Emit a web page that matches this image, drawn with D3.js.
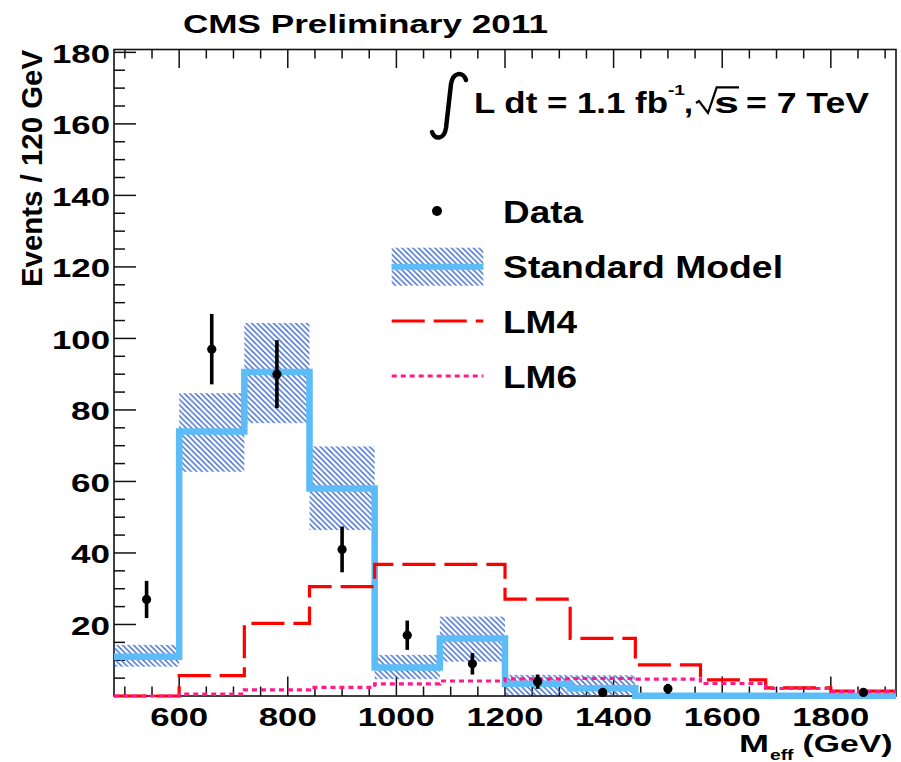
<!DOCTYPE html>
<html>
<head>
<meta charset="utf-8">
<script src="https://cdn.jsdelivr.net/npm/d3@7"></script>
<style>
  html, body { margin: 0; padding: 0; background: #fff; }
  svg { display: block; }
  text { font-family: "Liberation Sans", Arial, Helvetica, sans-serif; font-weight: bold; fill: #000; }
</style>
</head>
<body>
<script>
// ---------------- data ----------------
const binEdges = [480, 600, 720, 840, 960, 1080, 1200, 1320, 1440, 1560, 1680, 1800, 1920];
const smValues   = [11.0, 74.0, 90.6, 58.0, 8.0, 16.1, 3.4, 2.2, 0.1, 0.1, 0.1, 0.1];
const smBandHigh = [14.3, 84.7, 104.3, 69.8, 11.5, 22.2, 5.9, 5.8, 0, 0, 0, 0];
const smBandLow  = [8.2, 62.7, 76.3, 46.4, 4.7, 9.6, 0.3, 0.0, 0, 0, 0, 0];
const lm4Values  = [0, 5.7, 20.3, 30.6, 36.8, 36.8, 27.1, 16.1, 8.7, 4.5, 2.3, 1.4];
const lm6Values  = [0, 0.5, 1.7, 2.4, 3.4, 4.2, 4.8, 4.9, 4.7, 3.5, 2.1, 1.2];
const dataX   = [540, 660, 780, 900, 1020, 1140, 1260, 1380, 1500, 1860];
const dataY   = [27, 97, 90, 41, 17, 9, 4, 1, 2, 1];
const dataErr = [5.2, 9.85, 9.5, 6.4, 4.1, 3.0, 2.0, 1.0, 1.4, 1.0];
const legendLabels = ["Data", "Standard Model", "LM4", "LM6"];
const titleText = "CMS Preliminary 2011";
const yTitle = "Events / 120 GeV";

// ---------------- setup ----------------
const W = 901, H = 762;
const L = 114, R = 896, T = 49.5, B = 696;
const svg = d3.select("body").append("svg").attr("width", W).attr("height", H);
svg.append("rect").attr("width", W).attr("height", H).attr("fill", "#fff");

const x = d3.scaleLinear().domain([480, 1920]).range([L, R]);
const y = d3.scaleLinear().domain([0, 180.8]).range([B, T]);

const defs = svg.append("defs");
const hp = 5.5;
const pat = defs.append("pattern").attr("id", "hatch").attr("patternUnits", "userSpaceOnUse")
  .attr("width", hp).attr("height", hp);
pat.append("path")
  .attr("d", `M0,0 L${hp},${hp} M${-1},${hp - 1} L1,${hp + 1} M${hp - 1},-1 L${hp + 1},1`)
  .attr("stroke", "#3565cc").attr("stroke-width", 1.4);

function txt(g, str, px, py, fs, len, anchor) {
  let x0 = px;
  if (anchor === "middle") x0 = px - len / 2;
  else if (anchor === "end") x0 = px - len;
  return g.append("text").attr("x", x0).attr("y", py).attr("font-size", fs)
    .attr("textLength", len).attr("lengthAdjust", "spacingAndGlyphs").text(str);
}

// ---------------- frame & ticks ----------------
const axes = svg.append("g");
axes.append("rect").attr("x", L).attr("y", T).attr("width", R - L).attr("height", B - T)
  .attr("fill", "none").attr("stroke", "#111").attr("stroke-width", 1.6);

const xMajor = x.ticks(7);
const xMinor = d3.ticks(480, 1920, 30).filter(v => v > 480 && v < 1920);
const yMajor = y.ticks(9).filter(v => v > 0);
const yMinor = d3.ticks(0, 180.8, 36).filter(v => v > 0);

xMinor.forEach(v => {
  const isMaj = xMajor.includes(v);
  const len = isMaj ? 19.5 : 9.5;
  axes.append("line").attr("x1", x(v)).attr("x2", x(v)).attr("y1", B).attr("y2", B - len)
    .attr("stroke", "#111").attr("stroke-width", 1.5);
  axes.append("line").attr("x1", x(v)).attr("x2", x(v)).attr("y1", T).attr("y2", T + (isMaj ? 18.5 : 9))
    .attr("stroke", "#111").attr("stroke-width", 1.5);
});
yMinor.forEach(v => {
  const isMaj = yMajor.includes(v);
  axes.append("line").attr("x1", L).attr("x2", L + (isMaj ? 22 : 11)).attr("y1", y(v)).attr("y2", y(v))
    .attr("stroke", "#111").attr("stroke-width", 1.5);
});

// tick labels
xMajor.forEach(v => {
  const s = String(v);
  txt(axes, s, x(v), 726, 26.5, s.length === 3 ? 58 : 77, "middle");
});
yMajor.forEach(v => {
  const s = String(v);
  txt(axes, s, 110, y(v) + 10.5, 26.5, s.length === 2 ? 39 : 58, "end");
});

// ---------------- plot contents ----------------
const plot = svg.append("g");
const bins = smValues.map((v, i) => ({ i, x0: binEdges[i], x1: binEdges[i + 1] }));

// SM uncertainty band
plot.selectAll("rect.band").data(bins.filter(b => smBandHigh[b.i] > smBandLow[b.i]))
  .enter().append("rect").attr("class", "band")
  .attr("x", b => x(b.x0)).attr("width", b => x(b.x1) - x(b.x0))
  .attr("y", b => y(smBandHigh[b.i])).attr("height", b => y(smBandLow[b.i]) - y(smBandHigh[b.i]))
  .attr("fill", "url(#hatch)");

function stepPts(vals) {
  const pts = vals.map((v, i) => [binEdges[i], v]);
  pts.push([binEdges[binEdges.length - 1], vals[vals.length - 1]]);
  return pts;
}
const step = d3.line().x(d => x(d[0])).y(d => y(d[1])).curve(d3.curveStepAfter);

plot.append("path").attr("d", step(stepPts(smValues))).attr("fill", "none")
  .attr("stroke", "#5bbcf7").attr("stroke-width", 6.5);
plot.append("path").attr("d", step(stepPts(lm4Values))).attr("fill", "none")
  .attr("stroke", "#ff0000").attr("stroke-width", 3.2).attr("stroke-dasharray", "33,9");
plot.append("path").attr("d", step(stepPts(lm6Values))).attr("fill", "none")
  .attr("stroke", "#ff1a8c").attr("stroke-width", 3.2).attr("stroke-dasharray", "5,4");

// data points
const pts = dataX.map((v, i) => ({ x: v, y: dataY[i], e: dataErr[i] }));
plot.selectAll("line.err").data(pts).enter().append("line").attr("class", "err")
  .attr("x1", d => x(d.x)).attr("x2", d => x(d.x))
  .attr("y1", d => y(d.y + d.e)).attr("y2", d => y(Math.max(0, d.y - d.e)))
  .attr("stroke", "#000").attr("stroke-width", 3.6);
plot.selectAll("circle.pt").data(pts).enter().append("circle").attr("class", "pt")
  .attr("cx", d => x(d.x)).attr("cy", d => y(d.y)).attr("r", 4.6).attr("fill", "#000");

// ---------------- texts ----------------
txt(svg, titleText, 183, 33.3, 25.5, 365, "start");

svg.append("text").attr("transform", "translate(42,287) rotate(-90)")
  .attr("font-size", 29).attr("textLength", 237).attr("lengthAdjust", "spacingAndGlyphs")
  .text(yTitle);

// x-axis title M_eff (GeV)
txt(svg, "M", 739, 751.7, 24.6, 30, "start");
txt(svg, "eff", 770, 760, 15, 23.5, "start");
txt(svg, "(GeV)", 802.5, 751.7, 24.6, 90, "start");

// luminosity label
svg.append("path").attr("d", "M466,80 C463,71 453,72 451,84 L446,128 C444,140 435,140 432,132")
  .attr("fill", "none").attr("stroke", "#000").attr("stroke-width", 4.5).attr("stroke-linecap", "round");
txt(svg, "L dt = 1.1 fb", 474, 112.7, 29, 194, "start");
txt(svg, "-1", 668, 95, 14.5, 17, "start");
txt(svg, ",", 684, 112.7, 29, 9, "start");
svg.append("path").attr("d", "M696,103 L699,101 L708,113 L716.7,87.3 L739,87.3")
  .attr("fill", "none").attr("stroke", "#000").attr("stroke-width", 2.2).attr("stroke-linejoin", "miter");
txt(svg, "s", 714, 112.7, 29, 25, "start");
txt(svg, "= 7 TeV", 746, 112.7, 29, 123, "start");

// ---------------- legend ----------------
const lg = svg.append("g");
const lx0 = 391.7, lx1 = 483.3, ltx = 503;
const rowY = [211, 266.7, 321, 376];
const labW = [80, 280, 74, 74];
// Data
lg.append("circle").attr("cx", 437).attr("cy", rowY[0]).attr("r", 5).attr("fill", "#000");
// SM
lg.append("rect").attr("x", lx0).attr("y", rowY[1] - 19).attr("width", lx1 - lx0).attr("height", 38)
  .attr("fill", "url(#hatch)");
lg.append("line").attr("x1", lx0).attr("x2", lx1).attr("y1", rowY[1]).attr("y2", rowY[1])
  .attr("stroke", "#5bbcf7").attr("stroke-width", 6);
// LM4
lg.append("line").attr("x1", lx0).attr("x2", lx1).attr("y1", rowY[2]).attr("y2", rowY[2])
  .attr("stroke", "#ff0000").attr("stroke-width", 3.2).attr("stroke-dasharray", "33,9");
// LM6
lg.append("line").attr("x1", lx0).attr("x2", lx1).attr("y1", rowY[3]).attr("y2", rowY[3])
  .attr("stroke", "#ff1a8c").attr("stroke-width", 3.2).attr("stroke-dasharray", "5,4");
legendLabels.forEach((s, i) => txt(lg, s, ltx, rowY[i] + 11.5, 30.5, labW[i], "start"));
</script>
</body>
</html>
